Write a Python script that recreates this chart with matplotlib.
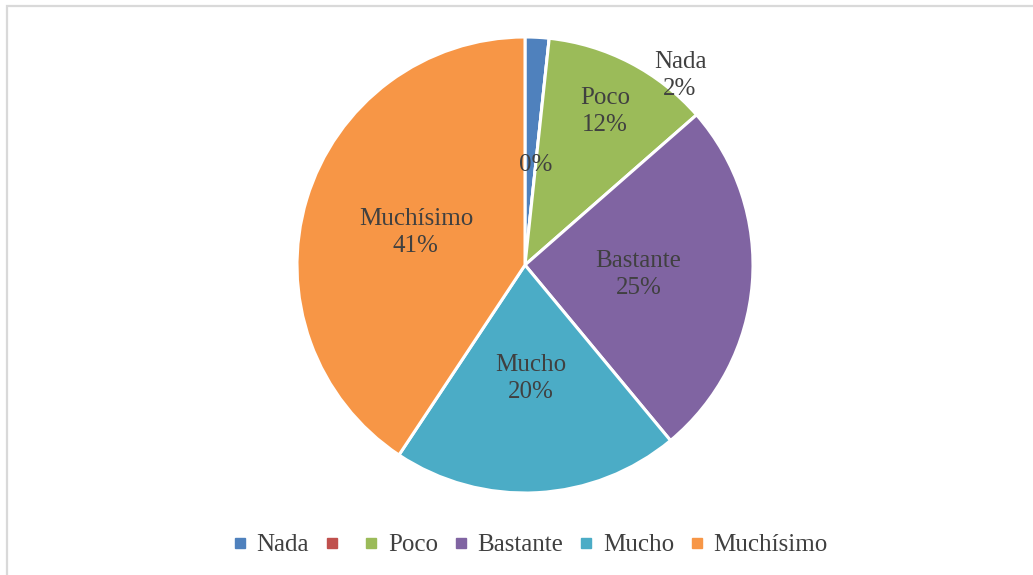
import numpy as np
import matplotlib
matplotlib.use("Agg")
import matplotlib.pyplot as plt
from matplotlib.lines import Line2D
from matplotlib.patches import Rectangle

# Survey answers (number of responses per category)
categories = ["Nada", "", "Poco", "Bastante", "Mucho", "Muchísimo"]
counts = [1, 0, 7, 15, 12, 24]
colors = ["#4F81BD", "#C0504D", "#9BBB59", "#8064A2", "#4BACC6", "#F79646"]

plt.rcParams["font.family"] = ["Liberation Serif", "DejaVu Serif"]
TEXT = "#404040"
FS = 18

W, H = 1033, 575
fig = plt.figure(figsize=(W / 100, H / 100), dpi=100)

# light grey chart frame
fig.patches.append(Rectangle((6.5 / W, -0.05), 1.1, 1 - 5.5 / H + 0.05,
                             transform=fig.transFigure, fill=False,
                             edgecolor="#D9D9D9", linewidth=1.6))

cx, cy, r = 525, 265, 228
ax = fig.add_axes([(cx - r) / W, (H - cy - r) / H, 2 * r / W, 2 * r / H])
wedges, _ = ax.pie(counts, colors=colors, startangle=90, counterclock=False,
                   radius=1.0, wedgeprops=dict(edgecolor="white", linewidth=2.2))
ax.set_xlim(-1, 1)
ax.set_ylim(-1, 1)
ax.set_aspect("equal")
ax.axis("off")

total = sum(counts)
# radial distance of each data label from the centre
label_dist = [None, 0.44, 0.76, 0.5, 0.5, 0.5]
cum = 0
for i, (name, v) in enumerate(zip(categories, counts)):
    mid = (cum + v / 2) / total
    cum += v
    pct = f"{round(100 * v / total)}%"
    txt = f"{name}\n{pct}" if name else pct
    if label_dist[i] is None:
        # small slice: label moved outside the pie
        x, y = 0.68, 0.83
    else:
        ang = np.pi / 2 - 2 * np.pi * mid
        x, y = label_dist[i] * np.cos(ang), label_dist[i] * np.sin(ang)
    ax.text(x, y, txt, ha="center", va="center", fontsize=FS, color=TEXT,
            linespacing=1.3)

handles = [Line2D([], [], marker="s", linestyle="none", markersize=7,
                  markerfacecolor=c, markeredgecolor=c) for c in colors]
leg = fig.legend(handles, categories, loc="center", ncol=6,
                 bbox_to_anchor=(0.514, 0.052), frameon=False, fontsize=FS,
                 handlelength=0.45, handletextpad=0.45, columnspacing=0.68)
for t in leg.get_texts():
    t.set_color(TEXT)

fig.savefig("out.png", dpi=100)
